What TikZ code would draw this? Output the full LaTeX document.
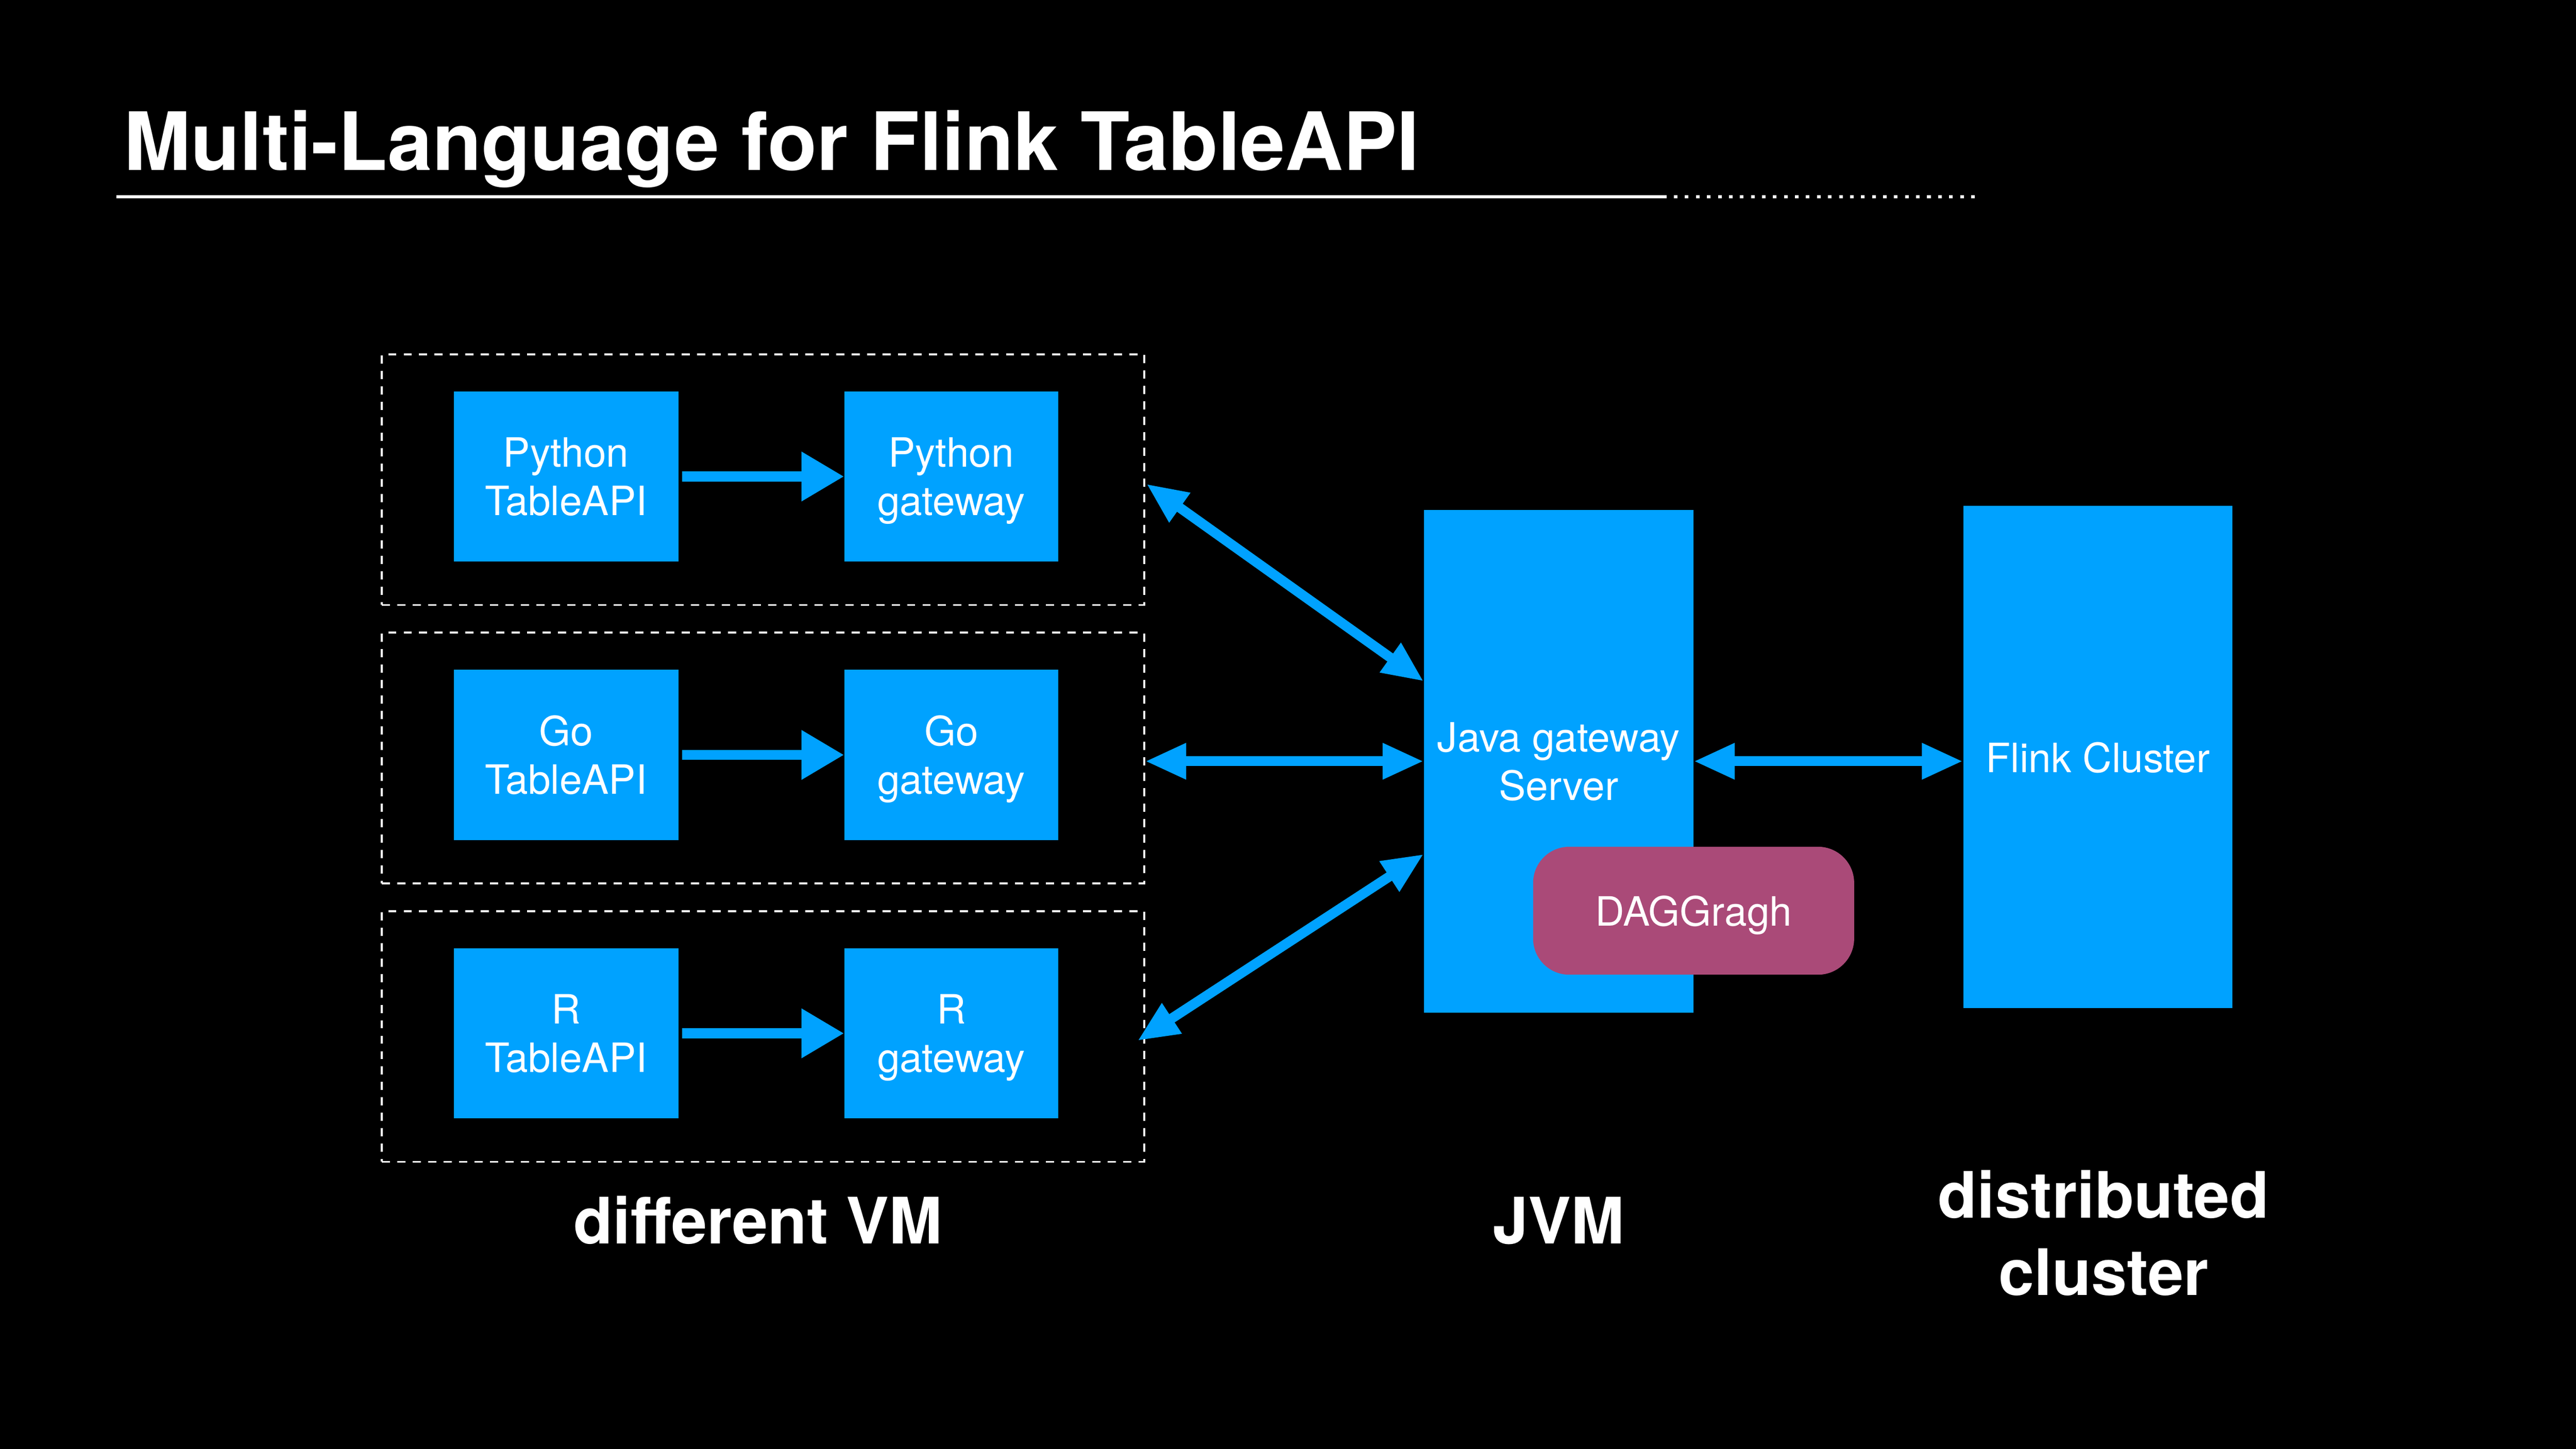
\documentclass[tikz,border=0pt]{standalone}
\usepackage{fontspec}
\setmainfont{TeX Gyre Heros}
\usetikzlibrary{arrows.meta,calc}
\definecolor{fblue}{HTML}{00A2FF}
\definecolor{dagpink}{HTML}{AA4A78}
\newcommand{\twolines}[2]{\vbox{\halign{\hfil##\hfil\cr #1\cr #2\cr}}}
\begin{document}
\begin{tikzpicture}[x=1pt,y=-1pt,
  tbox/.style={rectangle, fill=fblue, inner sep=0pt, text=white,
    font=\fontsize{24.6}{29.5}\selectfont, text depth=0pt},
  vmbox/.style={rectangle, draw=white, line width=1.2pt, dash pattern=on 5pt off 4.4pt,
    inner sep=0pt, minimum width=463.9pt, minimum height=152.6pt},
  onearrow/.style={draw=fblue, line width=6.2pt, -{Triangle[length=26pt,width=28.6pt]}},
  twoarrow/.style={draw=fblue, line width=6pt,
    {Triangle[length=25pt,width=20.5pt]}-{Triangle[length=25pt,width=20.5pt]}},
  capt/.style={text=white, inner sep=0pt, font=\fontsize{39}{47}\selectfont\bfseries},
  ]
\fill[black] (0,0) rectangle (1568,882);
\useasboundingbox (0,0) rectangle (1568,882);

% title
\node[anchor=base west, inner sep=0pt, text=white,
  font=\fontsize{49}{58}\selectfont\bfseries] (title) at (75.1,103.8) {Multi-Language for Flink TableAPI};
\coordinate (ul0) at (70.9,119.8);
\coordinate (ul1) at (1012.2,119.8);
\coordinate (ul2) at (1204.6,119.8);
\draw[white, line width=1.7pt] (ul0) -- (ul1);
\draw[white, line width=1.7pt, dash pattern=on 2.2pt off 4.5pt] (ul1) -- (ul2);

% dashed VM boxes
\node[vmbox] (vm1) at (464.45,292) {};
\node[vmbox] (vm2) at (464.45,461.5) {};
\node[vmbox] (vm3) at (464.45,631) {};

% language boxes
\node[tbox, minimum width=136.7pt, minimum height=103.6pt] (pyapi) at (344.55,290.1) {\twolines{Python}{TableAPI}};
\node[tbox, minimum width=130pt, minimum height=103.6pt] (pygw) at (579,290.1) {\twolines{Python}{gateway}};
\node[tbox, minimum width=136.7pt, minimum height=103.6pt] (goapi) at (344.55,459.6) {\twolines{Go}{TableAPI}};
\node[tbox, minimum width=130pt, minimum height=103.6pt] (gogw) at (579,459.6) {\twolines{Go}{gateway}};
\node[tbox, minimum width=136.7pt, minimum height=103.6pt] (rapi) at (344.55,629.1) {\twolines{R}{TableAPI}};
\node[tbox, minimum width=130pt, minimum height=103.6pt] (rgw) at (579,629.1) {\twolines{R}{gateway}};

\draw[onearrow, shorten <=2pt] (pyapi.east) -- (pygw.west);
\draw[onearrow, shorten <=2pt] (goapi.east) -- (gogw.west);
\draw[onearrow, shorten <=2pt] (rapi.east) -- (rgw.west);

% JVM and cluster
\node[tbox, minimum width=163.9pt, minimum height=306.1pt] (jvm) at (948.75,463.45) {\twolines{Java gateway}{Server}};
\node[tbox, minimum width=163.9pt, minimum height=305.8pt] (flink) at (1277,460.9) {Flink Cluster};
\node[tbox, fill=dagpink, rounded corners=22pt, minimum width=195.4pt, minimum height=77.9pt] (dag) at (1030.9,554.45) {DAGGragh};

% connectors
\coordinate (d1a) at ($(vm1.east)+(0.8,2.6)$);
\coordinate (d1b) at ($(jvm.west)+(0,-48.65)$);
\coordinate (d3a) at ($(vm3.east)+(-4.6,2.6)$);
\coordinate (d3b) at ($(jvm.west)+(0,56.55)$);
\draw[twoarrow] (d1a) -- (d1b);
\draw[twoarrow] (vm2.east |- jvm.west) -- (jvm.west);
\draw[twoarrow] (d3a) -- (d3b);
\draw[twoarrow] (jvm.east) -- (jvm.east -| flink.west);

% captions
\node[capt, anchor=base] (cvm) at (461.4,757.1) {different VM};
\node[capt, anchor=base] (cjvm) at (948.6,757.1) {JVM};
\node[capt, anchor=base] (ccl) at (1280.4,788.6) {\twolines{distributed}{cluster}};
\end{tikzpicture}
\end{document}
